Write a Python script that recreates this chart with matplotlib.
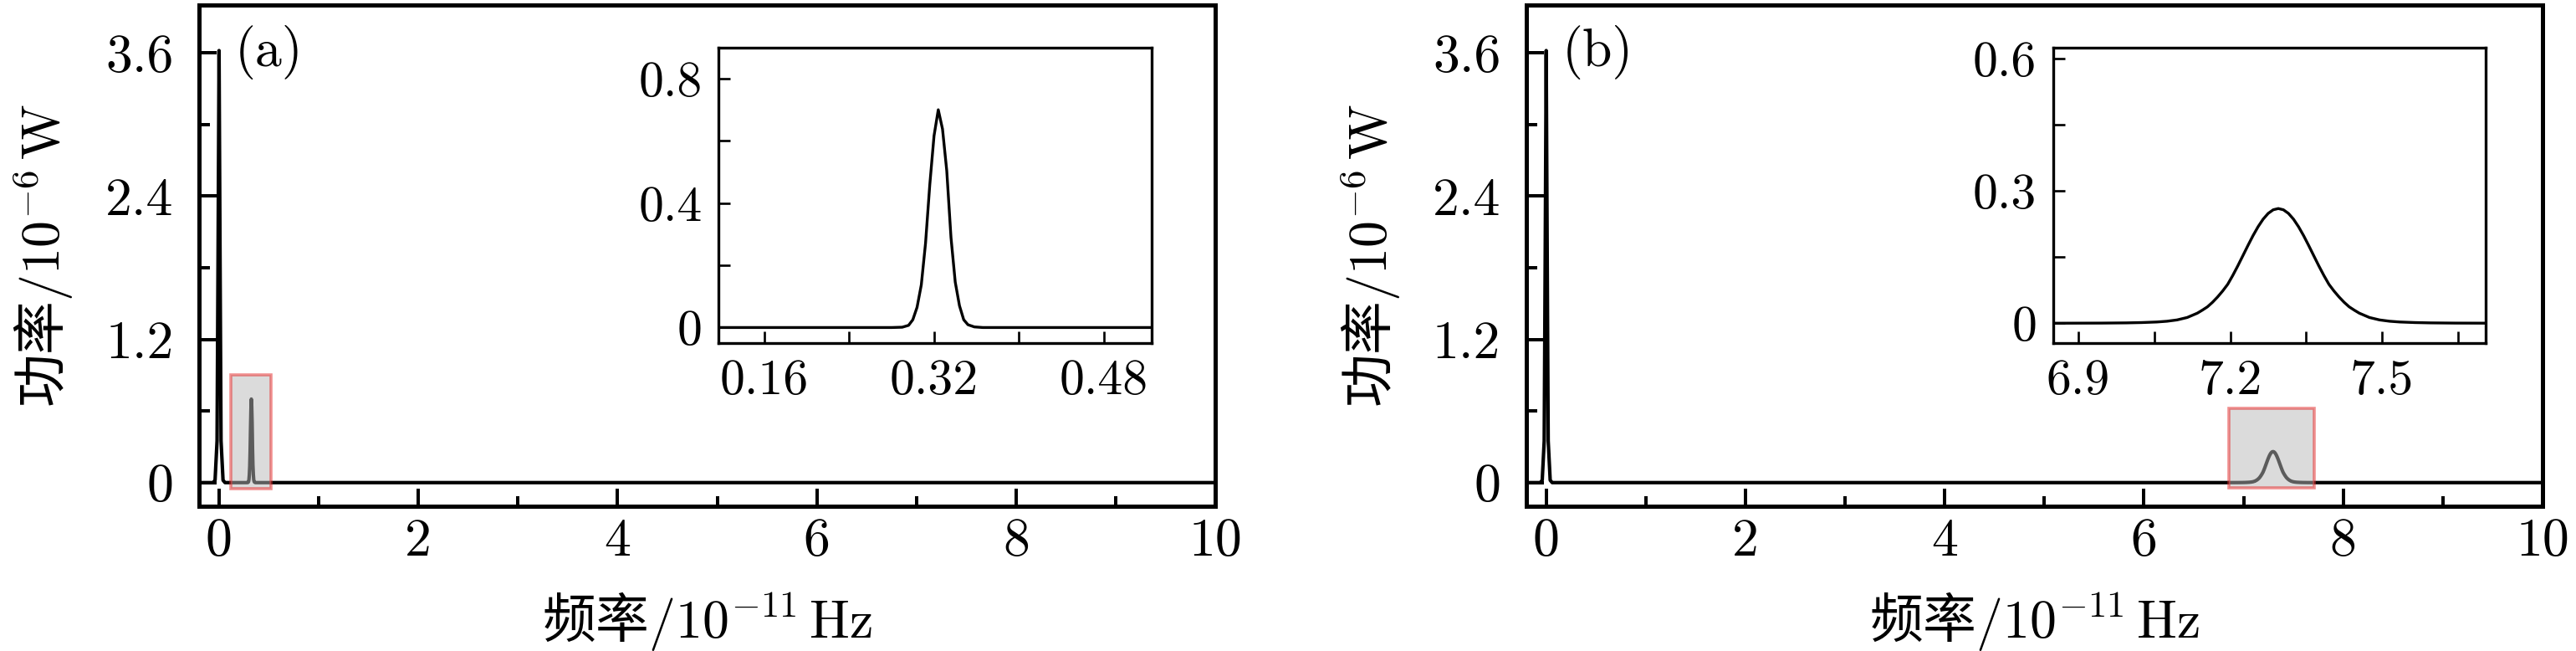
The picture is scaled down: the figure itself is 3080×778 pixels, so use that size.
#!/usr/bin/env python3

"""
Power spectra of the two cases, each with a zoomed inset.
Output: out.png
"""

import matplotlib
matplotlib.use("Agg")

import matplotlib.pyplot as plt
from matplotlib.patches import Rectangle
from matplotlib.ticker import MultipleLocator, FuncFormatter

# ============================================================
# Data
# ============================================================

# spike at zero frequency, shared by both panels
spike_freq = [-0.20, -0.06, -0.04, -0.02, -0.01, 0.0, 0.01, 0.02, 0.04, 0.06]
spike_power = [0.0, 0.0, 0.02, 0.35, 1.90, 3.62, 1.90, 0.35, 0.02, 0.0]

# panel (a) side peak
peak_a_freq = [0.280, 0.290, 0.296, 0.300, 0.304, 0.308, 0.312, 0.316,
               0.320, 0.324, 0.328, 0.332, 0.336, 0.340, 0.344, 0.348,
               0.352, 0.358, 0.366]
peak_a_power = [0.0, 0.001, 0.007, 0.025, 0.065, 0.137, 0.271, 0.459,
                0.616, 0.700, 0.638, 0.504, 0.289, 0.146, 0.070, 0.025,
                0.009, 0.002, 0.0]

# panel (b) side peak
peak_b_freq = [6.845, 6.945, 6.995, 7.025, 7.055, 7.075, 7.095, 7.115,
               7.135, 7.145, 7.155, 7.165, 7.175, 7.185, 7.195, 7.205,
               7.215, 7.225, 7.235, 7.245, 7.255, 7.265, 7.275, 7.285,
               7.295,
               7.305, 7.315, 7.325, 7.335, 7.345, 7.355, 7.365, 7.375,
               7.385, 7.395, 7.405, 7.415, 7.425, 7.435, 7.445, 7.455,
               7.475, 7.495, 7.515, 7.535, 7.565, 7.595, 7.645, 7.745]
peak_b_power = [0.0, 0.0003, 0.0008, 0.0015, 0.0028, 0.0045, 0.0075, 0.013,
                0.0228, 0.0297, 0.0372, 0.0475, 0.0595, 0.0730, 0.0882, 0.1083,
                0.1301, 0.1531, 0.1762, 0.1985, 0.2187, 0.2359, 0.2490, 0.2572,
                0.2600,
                0.2572, 0.2490, 0.2359, 0.2187, 0.1985, 0.1762, 0.1531, 0.1301,
                0.1083, 0.0882, 0.0730, 0.0595, 0.0475, 0.0372, 0.0297, 0.0228,
                0.013, 0.0075, 0.0045, 0.0028, 0.0015, 0.0008, 0.0003, 0.0]

end_freq = [10.0]
end_power = [0.0]

main_xlim = (-0.2, 10.0)
main_ylim = (-0.2, 4.0)

inset_a_xlim = (0.117, 0.525)
inset_a_ylim = (-0.05, 0.9)
inset_b_xlim = (6.85, 7.705)
inset_b_ylim = (-0.045, 0.625)

panel_tags = ["(a)", "(b)"]

xlabel = "频率$/10^{-11}\\,\\mathrm{Hz}$"
ylabel = "功率$/10^{-6}\\,\\mathrm{W}$"

# ============================================================
# Style
# ============================================================

plt.rcParams["font.family"] = ["cmr10", "Noto Sans CJK SC"]
plt.rcParams["mathtext.fontset"] = "cm"
plt.rcParams["axes.formatter.use_mathtext"] = True
plt.rcParams["axes.unicode_minus"] = False

FS = 23
FS_IN = 21.5
CJK = "Noto Sans CJK SC"


def fmt(v, pos):
    return f"{v:g}"


def style_axes(ax, lw, major_len, minor_len, pad_x, pad_y, fs):
    for s in ax.spines.values():
        s.set_linewidth(lw)
    ax.tick_params(which="both", direction="in", top=False, right=False,
                   width=lw * 0.8, labelsize=fs)
    ax.tick_params(which="major", length=major_len)
    ax.tick_params(which="minor", length=minor_len)
    ax.tick_params(axis="x", pad=pad_x)
    ax.tick_params(axis="y", pad=pad_y)
    ax.xaxis.set_major_formatter(FuncFormatter(fmt))
    ax.yaxis.set_major_formatter(FuncFormatter(fmt))


# ============================================================
# Panels
# ============================================================

def draw_panel(fig, main_rect, inset_rect, peak_x, peak_y,
               in_xlim, in_ylim, in_xmaj, in_ymaj, tag):

    x = spike_freq + peak_x + end_freq
    y = spike_power + peak_y + end_power

    ax = fig.add_axes(main_rect)
    ax.plot(x, y, color="black", lw=1.5, zorder=2)
    ax.set_xlim(*main_xlim)
    ax.set_ylim(*main_ylim)
    ax.xaxis.set_major_locator(MultipleLocator(2))
    ax.xaxis.set_minor_locator(MultipleLocator(1))
    ax.yaxis.set_major_locator(MultipleLocator(1.2))
    ax.yaxis.set_minor_locator(MultipleLocator(0.6))
    style_axes(ax, 1.8, 7.5, 4.5, 5, 11, FS)
    ax.set_xlabel(xlabel, fontsize=FS, labelpad=10, family=CJK)
    ax.set_ylabel(ylabel, fontsize=FS, labelpad=13, family=CJK)
    ax.text(0.035, 0.96, tag, transform=ax.transAxes,
            fontsize=FS, va="top", ha="left")

    # zoom region marker
    ax.add_patch(Rectangle(
        (in_xlim[0], in_ylim[0]),
        in_xlim[1] - in_xlim[0],
        in_ylim[1] - in_ylim[0],
        facecolor=(0.72, 0.72, 0.72, 0.5),
        edgecolor=(0.9, 0.2, 0.2, 0.55),
        lw=1.3, zorder=3
    ))

    axi = fig.add_axes(inset_rect)
    axi.plot(x, y, color="black", lw=1.2)
    axi.set_xlim(*in_xlim)
    axi.set_ylim(*in_ylim)
    axi.xaxis.set_major_locator(MultipleLocator(in_xmaj))
    axi.xaxis.set_minor_locator(MultipleLocator(in_xmaj / 2))
    axi.yaxis.set_major_locator(MultipleLocator(in_ymaj))
    axi.yaxis.set_minor_locator(MultipleLocator(in_ymaj / 2))
    style_axes(axi, 1.2, 5, 5, 7, 7, FS_IN)

    return ax, axi


def main():

    fig = plt.figure(figsize=(15.4, 3.89), dpi=200)

    draw_panel(fig,
               [0.0773, 0.222, 0.3945, 0.770],
               [0.279, 0.473, 0.168, 0.454],
               peak_a_freq, peak_a_power,
               inset_a_xlim, inset_a_ylim, 0.16, 0.4, panel_tags[0])

    draw_panel(fig,
               [0.5925, 0.222, 0.3945, 0.770],
               [0.797, 0.473, 0.168, 0.454],
               peak_b_freq, peak_b_power,
               inset_b_xlim, inset_b_ylim, 0.3, 0.3, panel_tags[1])

    fig.savefig("out.png", dpi=200)
    plt.close(fig)


if __name__ == "__main__":

    main()
